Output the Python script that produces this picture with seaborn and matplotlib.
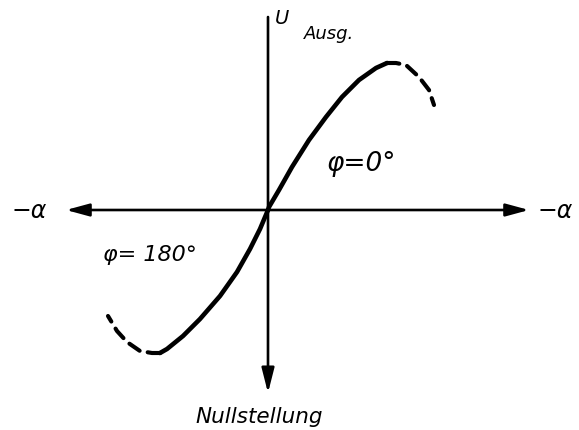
import numpy as np
import pandas as pd
import matplotlib
matplotlib.use("Agg")
import matplotlib.pyplot as plt
import seaborn as sns

# curve (alpha to the right, U upward, origin at the axis crossing)
upper_solid_alpha = [0.0, 0.01, 0.11, 0.24, 0.41, 0.58, 0.74, 0.91, 1.08, 1.19]
upper_solid_u = [0.0, 0.03, 0.20, 0.43, 0.70, 0.93, 1.13, 1.30, 1.42, 1.47]
upper_dash_alpha = [1.19, 1.28, 1.38, 1.51, 1.61, 1.66]
upper_dash_u = [1.47, 1.47, 1.45, 1.33, 1.20, 1.05]

lower_solid_alpha = [0.0, -0.08, -0.18, -0.31, -0.48, -0.68, -0.85, -1.01, -1.08]
lower_solid_u = [0.0, -0.19, -0.39, -0.62, -0.86, -1.09, -1.26, -1.39, -1.43]
lower_dash_alpha = [-1.08, -1.16, -1.28, -1.41, -1.51, -1.60]
lower_dash_u = [-1.43, -1.43, -1.41, -1.32, -1.21, -1.06]

label_phi_0 = "φ=0°"
label_phi_180 = "φ= 180°"
label_alpha = "−α"
label_u = "U"
label_u_sub = "Ausg."
label_bottom = "Nullstellung"

sns.set_style("white")
plt.rcParams['font.family'] = ['DejaVu Sans']

fig = plt.figure(figsize=(5.79, 4.31), dpi=100)
ax = fig.add_axes([0, 0, 1, 1])
ax.set_xlim(-2.68, 3.11)
ax.set_ylim(-2.20, 2.11)

black = "black"
curve_lw = 3.3

solid = pd.concat([
    pd.DataFrame({"alpha": upper_solid_alpha, "u": upper_solid_u, "part": "up"}),
    pd.DataFrame({"alpha": lower_solid_alpha, "u": lower_solid_u, "part": "down"}),
])
dashed = pd.concat([
    pd.DataFrame({"alpha": upper_dash_alpha, "u": upper_dash_u, "part": "up"}),
    pd.DataFrame({"alpha": lower_dash_alpha, "u": lower_dash_u, "part": "down"}),
])

sns.lineplot(data=solid, x="alpha", y="u", units="part", estimator=None, sort=False,
             color=black, lw=curve_lw, ax=ax, solid_capstyle="round",
             solid_joinstyle="round")
n_solid = len(ax.lines)
sns.lineplot(data=dashed, x="alpha", y="u", units="part", estimator=None, sort=False,
             color=black, lw=curve_lw * 0.9, ax=ax)
for ln in ax.lines[n_solid:]:
    ln.set_linestyle((0, (3.0, 2.0)))
    ln.set_dash_capstyle("round")
    ln.set_dash_joinstyle("round")

# axes with arrows
ax.annotate("", xy=(-2.02, 0), xytext=(2.61, 0),
            arrowprops=dict(arrowstyle="<|-|>,head_length=1.4,head_width=0.38",
                            color=black, lw=1.9, shrinkA=0, shrinkB=0))
ax.annotate("", xy=(0, -1.83), xytext=(0, 1.93),
            arrowprops=dict(arrowstyle="-|>,head_length=1.5,head_width=0.38",
                            color=black, lw=1.9, shrinkA=0, shrinkB=0))

txt = dict(color=black, style="italic", ha="center", va="center")
ax.text(-2.39, 0.0, label_alpha, fontsize=17, **txt)
ax.text(2.70, 0.0, label_alpha, fontsize=17, color=black, style="italic",
        ha="left", va="center")
ax.text(0.14, 1.93, label_u, fontsize=14, **txt)
ax.text(0.61, 1.77, label_u_sub, fontsize=13, **txt)
ax.text(0.93, 0.47, label_phi_0, fontsize=19, **txt)
ax.text(-1.18, -0.44, label_phi_180, fontsize=16, **txt)
ax.text(-0.09, -2.06, label_bottom, fontsize=15.5, **txt)

ax.axis("off")
fig.savefig("out.png", dpi=100)
